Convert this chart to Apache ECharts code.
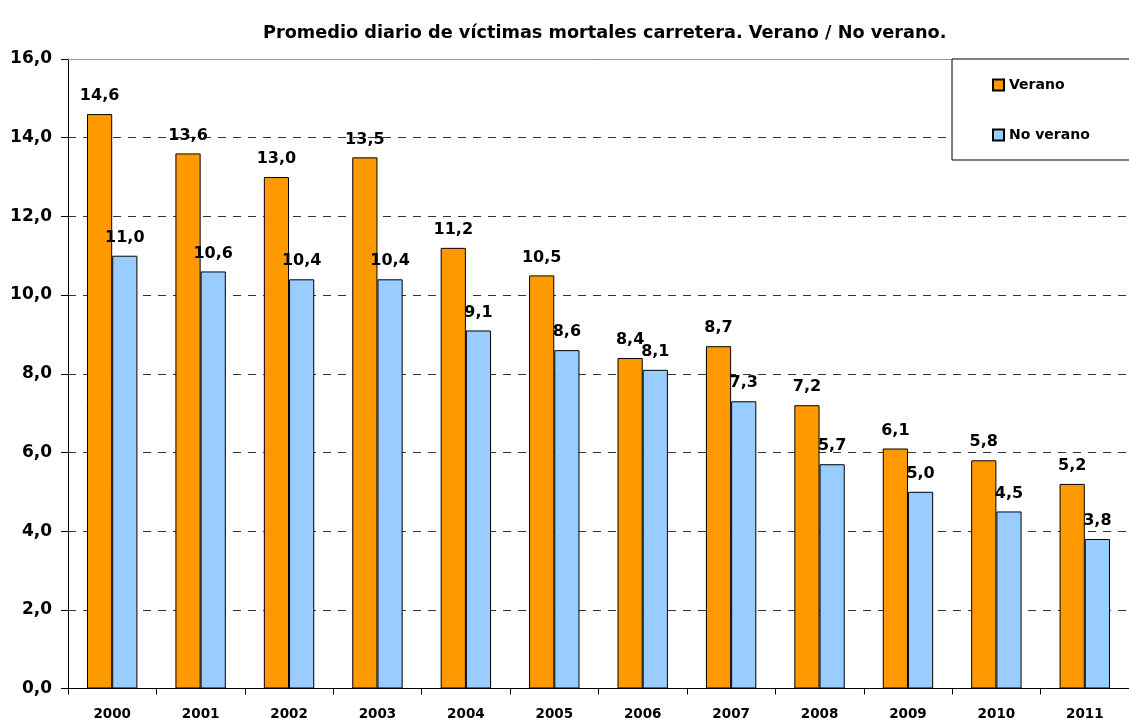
<!DOCTYPE html>
<html>
<head>
<meta charset="utf-8">
<title>Promedio diario de víctimas mortales carretera</title>
<script src="https://cdn.jsdelivr.net/npm/echarts@6/dist/echarts.min.js"></script>
<style>
  html, body { margin: 0; padding: 0; background: #fff; }
  #chart { width: 1129px; height: 724px; }
</style>
</head>
<body>
<div id="chart"></div>
<script>
const years = ["2000", "2001", "2002", "2003", "2004", "2005", "2006", "2007", "2008", "2009", "2010", "2011"];
const verano = [14.6, 13.6, 13.0, 13.5, 11.2, 10.5, 8.4, 8.7, 7.2, 6.1, 5.8, 5.2];
const noVerano = [11.0, 10.6, 10.4, 10.4, 9.1, 8.6, 8.1, 7.3, 5.7, 5.0, 4.5, 3.8];

const FONT = '"DejaVu Sans", Arial, sans-serif';
const fmt = (v) => Number(v).toFixed(1).replace(".", ",");

const chart = echarts.init(document.getElementById("chart"));

const labelStyle = {
  show: true,
  position: "top",
  distance: 10,
  color: "#000",
  fontFamily: FONT,
  fontWeight: "bold",
  fontSize: 16,
  formatter: (p) => fmt(p.value),
};

chart.setOption({
  animation: false,
  title: {
    text: "Promedio diario de víctimas mortales carretera. Verano / No verano.",
    left: 258,
    top: 19,
    textStyle: { fontFamily: FONT, fontWeight: "bold", fontSize: 17.7, color: "#000" },
  },
  legend: {
    orient: "vertical",
    left: 952,
    top: 59,
    padding: [19, 80, 18, 40],
    itemGap: 36,
    itemWidth: 11,
    itemHeight: 11,
    icon: "rect",
    backgroundColor: "#fff",
    borderColor: "#000",
    borderWidth: 1,
    textStyle: { fontFamily: FONT, fontWeight: "bold", fontSize: 14, color: "#000" },
    data: ["Verano", "No verano"],
  },
  grid: { left: 68, top: 59, width: 1068, height: 629.5 },
  xAxis: [
    {
      type: "category",
      data: years,
      axisLine: { lineStyle: { color: "#000", width: 1 } },
      axisTick: { show: true, length: 6, lineStyle: { color: "#000" } },
      axisLabel: { fontFamily: FONT, fontWeight: "bold", fontSize: 13.5, color: "#000", margin: 19 },
    },
    {
      type: "category",
      position: "top",
      data: years,
      axisLine: { lineStyle: { color: "#999", width: 1 } },
      axisTick: { show: false },
      axisLabel: { show: false },
    },
  ],
  yAxis: {
    type: "value",
    min: 0,
    max: 16,
    interval: 2,
    axisLine: { show: true, lineStyle: { color: "#000", width: 1 } },
    axisTick: { show: true, length: 7, lineStyle: { color: "#000" } },
    axisLabel: {
      fontFamily: FONT,
      fontWeight: "bold",
      fontSize: 17,
      color: "#000",
      margin: 16,
      formatter: fmt,
    },
    splitLine: { show: true, lineStyle: { color: "#333", type: [8, 7], width: 1 } },
  },
  series: [
    {
      name: "Verano",
      type: "bar",
      data: verano,
      barGap: "0%",
      barCategoryGap: "43%",
      itemStyle: { color: "#FF9900", borderColor: "#000", borderWidth: 1 },
      label: labelStyle,
    },
    {
      name: "No verano",
      type: "bar",
      data: noVerano,
      barGap: "0%",
      barCategoryGap: "43%",
      itemStyle: { color: "#99CCFF", borderColor: "#000", borderWidth: 1 },
      label: labelStyle,
    },
  ],
});
</script>
</body>
</html>
